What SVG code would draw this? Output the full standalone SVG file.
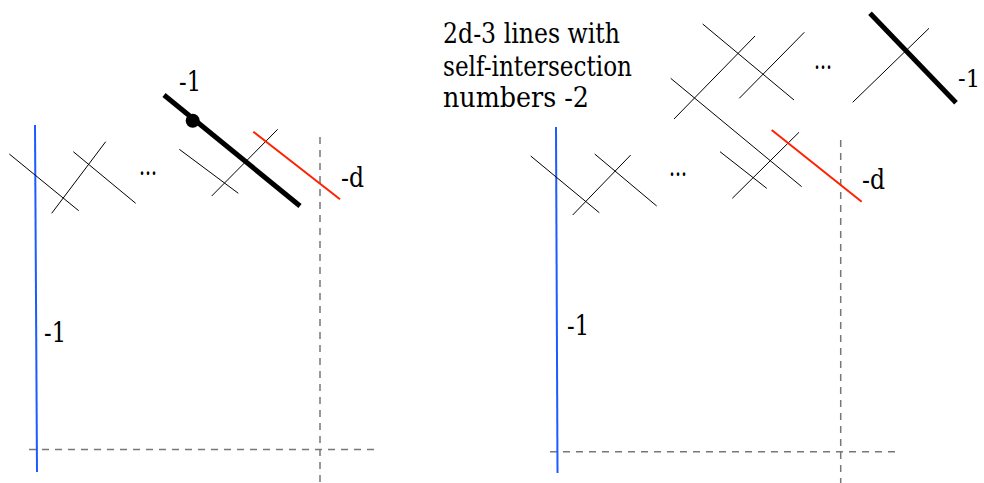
<svg xmlns="http://www.w3.org/2000/svg" width="984" height="483" viewBox="0 0 984 483">
<style>
.k{stroke:#000;stroke-width:1;fill:none}
.thick{stroke:#000;stroke-width:5;fill:none}
.blue{stroke:#1a5cff;stroke-width:2;fill:none}
.red{stroke:#ff2200;stroke-width:2;fill:none}
.dash{stroke:#777;stroke-width:1.5;stroke-dasharray:7,6;fill:none}
text{font-family:"DejaVu Serif","Liberation Serif",serif;font-size:27px;fill:#000}
</style>
<rect width="984" height="483" fill="#fff"/>
<g id="left">
  <line class="dash" x1="320" y1="137" x2="320" y2="483"/>
  <line class="dash" x1="29" y1="449.5" x2="376" y2="449.5"/>
  <line class="blue" x1="35" y1="125" x2="37" y2="472"/>
  <line class="k" x1="9.3" y1="154" x2="78.7" y2="210.7"/>
  <line class="k" x1="51.7" y1="213.3" x2="105.7" y2="141.7"/>
  <line class="k" x1="73.3" y1="151.7" x2="135.7" y2="203.3"/>
  <line class="k" x1="179.3" y1="149.3" x2="238.3" y2="193.3"/>
  <line class="k" x1="211.7" y1="196" x2="277.7" y2="129.3"/>
  <line class="red" x1="253.3" y1="131.7" x2="340" y2="199.3"/>
  <line class="thick" x1="164" y1="95" x2="300" y2="206"/>
  <circle cx="192.7" cy="120.7" r="7" fill="#000"/>
</g>
<g id="labels">
  <text x="139" y="175" textLength="18" lengthAdjust="spacingAndGlyphs">...</text>
  <text x="179" y="91" textLength="22" lengthAdjust="spacingAndGlyphs">-1</text>
  <text x="341" y="187" textLength="23" lengthAdjust="spacingAndGlyphs">-d</text>
  <text x="44" y="342" textLength="22" lengthAdjust="spacingAndGlyphs">-1</text>
  <text x="669" y="176" textLength="18" lengthAdjust="spacingAndGlyphs">...</text>
  <text x="814" y="69" textLength="18" lengthAdjust="spacingAndGlyphs">...</text>
  <text x="958" y="87" style="font-size:25px" textLength="22" lengthAdjust="spacingAndGlyphs">-1</text>
  <text x="862" y="189" textLength="23" lengthAdjust="spacingAndGlyphs">-d</text>
  <text x="567" y="335" textLength="22" lengthAdjust="spacingAndGlyphs">-1</text>
  <text x="443" y="43" textLength="177" lengthAdjust="spacingAndGlyphs">2d-3 lines with</text>
  <text x="443" y="76" textLength="189" lengthAdjust="spacingAndGlyphs">self-intersection</text>
  <text x="443" y="107" textLength="146" lengthAdjust="spacingAndGlyphs">numbers -2</text>
</g>
<g id="right">
  <line class="dash" x1="840.7" y1="140" x2="840.7" y2="483"/>
  <line class="dash" x1="550" y1="451.7" x2="897" y2="451.7"/>
  <line class="blue" x1="556" y1="127" x2="557.5" y2="473"/>
  <line class="k" x1="530.7" y1="156" x2="599.3" y2="212.7"/>
  <line class="k" x1="572.7" y1="215" x2="630.7" y2="155"/>
  <line class="k" x1="594.7" y1="154" x2="656.7" y2="206"/>
  <line class="k" x1="720" y1="151.7" x2="766.7" y2="188.3"/>
  <line class="k" x1="732.3" y1="198.3" x2="799" y2="132.3"/>
  <line class="red" x1="771.7" y1="130" x2="861.7" y2="201.7"/>
  <line class="k" x1="670.7" y1="78.3" x2="801.7" y2="186.7"/>
  <line class="k" x1="674" y1="119" x2="755" y2="36"/>
  <line class="k" x1="702.7" y1="24" x2="794" y2="100"/>
  <line class="k" x1="739.3" y1="98.3" x2="804.3" y2="32.3"/>
  <line class="k" x1="852.7" y1="102.3" x2="929" y2="28.3"/>
  <line class="thick" x1="870" y1="13.3" x2="956" y2="102.7"/>
</g>
</svg>
